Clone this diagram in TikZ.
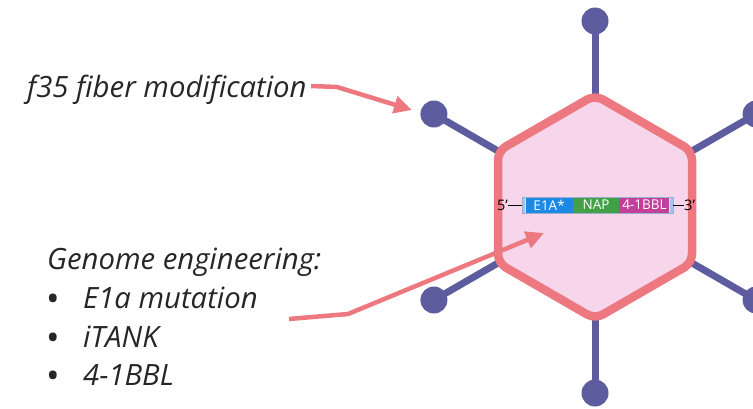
\documentclass[tikz,border=0pt]{standalone}
\usepackage{fontspec}
\setmainfont{Open Sans}
\usepackage{tikz}
\usetikzlibrary{arrows.meta}
\usepackage{xcolor}
\definecolor{ColCapsid}{RGB}{238,120,128}
\definecolor{ColCore}{RGB}{247,214,236}
\definecolor{ColFiber}{RGB}{92,92,158}
\definecolor{ColText}{RGB}{38,38,38}
\definecolor{ColE}{RGB}{30,136,229}
\definecolor{ColN}{RGB}{67,160,71}
\definecolor{ColB}{RGB}{194,64,154}
\definecolor{ColCap}{RGB}{165,195,238}
\tikzstyle{Capsid}=[draw=ColCapsid,fill=ColCore,line width=8.5pt,rounded corners=9pt,line join=round]
\tikzstyle{Fiber}=[draw=ColFiber,line width=7pt]
\tikzstyle{Knob}=[circle,fill=ColFiber,minimum size=27pt,inner sep=0pt]
\tikzstyle{Label}=[anchor=base west,inner sep=0pt,text=ColText,font=\fontsize{29.3}{32}\selectfont\itshape]
\tikzstyle{Dot}=[anchor=base west,inner sep=0pt,text=ColText,font=\fontsize{36}{36}\selectfont]
\tikzstyle{Pointer}=[draw=ColCapsid,line width=4.5pt,line join=round,-{Triangle[length=18pt,width=17pt]}]
\tikzstyle{Gene}=[minimum height=16pt,inner sep=0pt,anchor=west,text=white,font=\fontsize{13.5}{14}\selectfont]
\tikzstyle{End}=[inner sep=0pt,text=black,font=\fontsize{14.5}{15}\selectfont]

\begin{document}
\begin{tikzpicture}[x=1pt,y=-1pt]
        \useasboundingbox (0,0) rectangle (753,408);
        % capsid with its six fibers
        \begin{scope}[shift={(595,207)}]
            \foreach \a in {30,90,...,330}{
                \coordinate (v\a) at (\a:112);
                \node[Knob](k\a) at (\a:186){};
                \draw[Fiber](v\a)--(k\a.center);
            }
            \draw[Capsid](v30)--(v90)--(v150)--(v210)--(v270)--(v330)--cycle;
        \end{scope}
        % genome cassette
        \node[Gene,fill=ColCap,minimum width=3pt](cap5)at(522,205){};
        \node[Gene,fill=ColE,minimum width=47pt](e1a)at(cap5.east){E1A*};
        \node[Gene,fill=ColN,minimum width=46pt](nap)at(e1a.east){NAP};
        \node[Gene,fill=ColB,minimum width=50pt](bbl)at(nap.east){4-1BBL};
        \node[Gene,fill=ColCap,minimum width=3pt](cap3)at(bbl.east){};
        \draw[ColCap!70!gray,line width=0.6pt](cap5.north west)rectangle(cap3.south east);
        \node[End,anchor=east](five)at(508,205){5'};
        \node[End,anchor=west](three)at(684,205){3'};
        \draw[line width=0.8pt](five.east)--(cap5.west);
        \draw[line width=0.8pt](cap3.east)--(three.west);
        % labels
        \node[Label](fiber)at(27,97){f35 fiber modification};
        \node[Label](genome)at(47,269){Genome engineering:};
        \node[Dot](d1)at(46,311){•};
        \node[Dot](d2)at(46,350){•};
        \node[Dot](d3)at(46,388){•};
        \node[Label](mut)at(83,308){E1a mutation};
        \node[Label](itank)at(83,347){iTANK};
        \node[Label](bbll)at(83,385){4-1BBL};
        % pointers
        \coordinate (fs) at (311,86);
        \coordinate (fk) at (337,87);
        \coordinate (ft) at (412,110);
        \draw[Pointer](fs)--(fk)--(ft);
        \coordinate (gs) at (289,319);
        \coordinate (gk) at (348,314);
        \coordinate (gt) at (544,233);
        \draw[Pointer](gs)--(gk)--(gt);
    \end{tikzpicture}
\end{document}
